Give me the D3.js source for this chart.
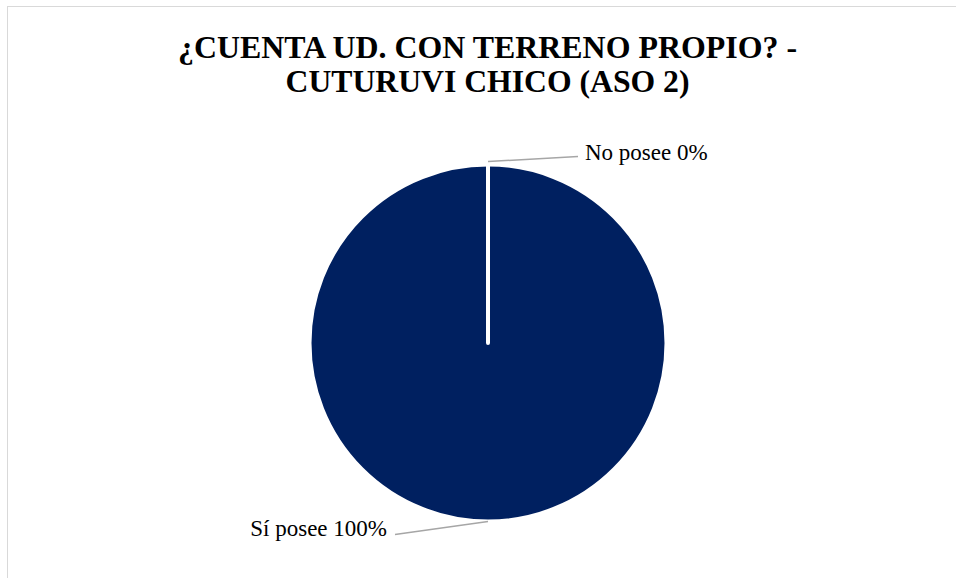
<!DOCTYPE html>
<html>
<head>
<meta charset="utf-8">
<script src="https://cdn.jsdelivr.net/npm/d3@7"></script>
<style>
  html, body { margin: 0; padding: 0; background: #fff; }
  svg { display: block; }
</style>
</head>
<body>
<svg id="chart" width="956" height="578"></svg>
<script>
const titleLines = ["¿CUENTA UD. CON TERRENO PROPIO? -", "CUTURUVI CHICO (ASO 2)"];
const categories = ["No posee", "Sí posee"];
const values = [0, 100];
const percentLabels = ["0%", "100%"];
const colors = ["#4472C4", "#002060"];

const W = 956, H = 578;
const svg = d3.select("#chart");

// chart area border (extends past the viewport on right/bottom)
svg.append("rect")
  .attr("x", 7.5).attr("y", 6.5)
  .attr("width", 1000).attr("height", 700)
  .attr("fill", "#fff").attr("stroke", "#d9d9d9").attr("stroke-width", 1);

// title
const title = svg.append("text")
  .attr("text-anchor", "middle")
  .attr("font-family", "'Liberation Serif', 'Times New Roman', serif")
  .attr("font-weight", "bold")
  .attr("font-size", 31)
  .attr("fill", "#000");
const titleW = [619, 404];
titleLines.forEach((t, i) => {
  title.append("tspan")
    .attr("x", 487.5)
    .attr("y", 58 + i * 34)
    .attr("textLength", titleW[i])
    .attr("lengthAdjust", "spacingAndGlyphs")
    .text(t);
});

const cx = 488, cy = 343, r = 178.5;
const data = categories.map((c, i) => ({ cat: c, value: values[i], pct: percentLabels[i], color: colors[i] }));

const pie = d3.pie().value(d => d.value).sort(null).startAngle(0).endAngle(2 * Math.PI);
const arcs = pie(data);
const arc = d3.arc().innerRadius(0).outerRadius(r);

const g = svg.append("g").attr("transform", `translate(${cx},${cy})`);

// draw larger slices first, zero slices on top so their white border line shows
const ordered = arcs.slice().sort((a, b) => (b.endAngle - b.startAngle) - (a.endAngle - a.startAngle));
g.selectAll("path.slice")
  .data(ordered)
  .join("path")
  .attr("class", "slice")
  .attr("d", arc)
  .attr("fill", d => d.data.color)
  .attr("stroke", "#fff")
  .attr("stroke-width", 4)
  .attr("stroke-linejoin", "round");

// labels with leader lines
const labelOffsets = {
  "No posee": { line: [[0, -3], [90, -8]], text: [97, -5], anchor: "start" },
  "Sí posee": { line: [[0, 0], [-93, 13]], text: [-101, 14], anchor: "end" }
};

arcs.forEach(a => {
  const mid = (a.startAngle + a.endAngle) / 2;
  const px = Math.sin(mid) * r, py = -Math.cos(mid) * r;
  const o = labelOffsets[a.data.cat];
  g.append("polyline")
    .attr("points", o.line.map(p => [px + p[0], py + p[1]].join(",")).join(" "))
    .attr("fill", "none")
    .attr("stroke", "#a6a6a6")
    .attr("stroke-width", 1.5);
  g.append("text")
    .attr("x", px + o.text[0])
    .attr("y", py + o.text[1])
    .attr("text-anchor", o.anchor)
    .attr("font-family", "'Liberation Serif', 'Times New Roman', serif")
    .attr("font-size", 23)
    .attr("fill", "#000")
    .text(`${a.data.cat} ${a.data.pct}`);
});
</script>
</body>
</html>
